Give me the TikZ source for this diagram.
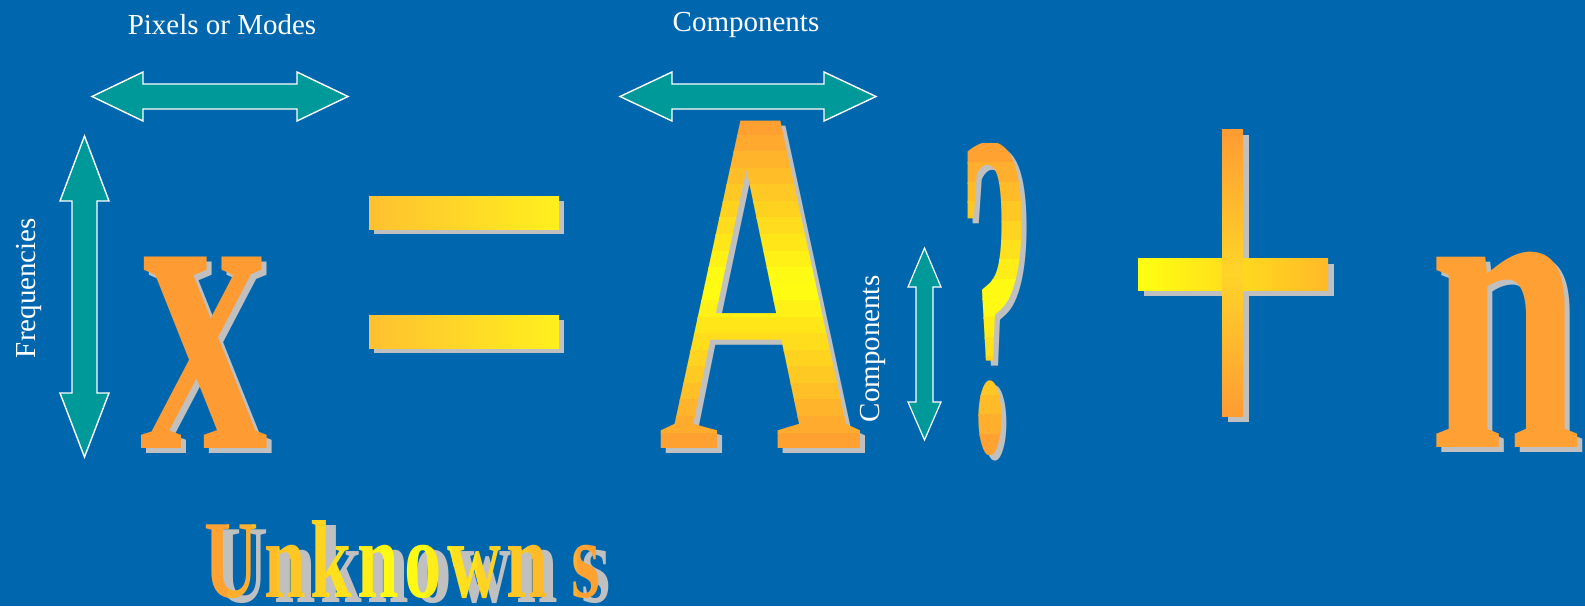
\documentclass[tikz,border=0pt]{standalone}
\usepackage{fontspec}
\setmainfont{Liberation Serif}
\usepackage{graphicx}
\definecolor{bg}{RGB}{0,102,174}
\definecolor{tealarrow}{RGB}{0,153,153}
\definecolor{orng}{RGB}{255,155,51}
\definecolor{orng2}{RGB}{255,160,52}
\definecolor{yel}{RGB}{255,255,17}
\definecolor{eqleft}{RGB}{255,192,48}
\definecolor{eqright}{RGB}{255,240,30}
\definecolor{plusmid}{RGB}{255,212,40}
\definecolor{shad}{RGB}{192,192,192}
\newcommand\glyphA{\resizebox{204pt}{327pt}{\bfseries A}}
\newcommand\glyphQ{\resizebox{71pt}{306pt}{\bfseries ?}}
\newcommand\glyphU{\resizebox{396pt}{77pt}{\bfseries\addfontfeature{LetterSpace=7}Unknown s}}
\newcommand\glyphX{\resizebox{128pt}{191pt}{\bfseries x}}
\newcommand\glyphN{\resizebox{152pt}{195pt}{\bfseries n}}
\tikzset{
  arrowshape/.style={fill=tealarrow,draw=white,line width=1.4pt,line join=miter},
  lbl/.style={text=white,font=\fontsize{29}{32}\selectfont,inner sep=0pt},
  shadowglyph/.style={text=shad,inner sep=0pt,outer sep=0pt},
  glyph/.style={inner sep=0pt,outer sep=0pt},
  barshadow/.style={fill=shad},
}
\begin{document}
\begin{tikzpicture}[x=1pt,y=-1pt]
\fill[bg] (0,0) rectangle (1585,606);
\useasboundingbox (0,0) rectangle (1585,606);

% labels
\node[lbl] (lpix) at (222,25) {Pixels or Modes};
\node[lbl] (lcomp) at (746,25) {Components};
\node[lbl,rotate=90] (lfreq) at (29,288) {Frequencies};
\node[lbl,rotate=90] (lcomp2) at (873,349) {Components};

% horizontal double arrows
\draw[arrowshape] (92,96.5) -- (143,72) -- (143,84) -- (297,84) -- (297,72) -- (348,96.5)
  -- (297,121) -- (297,109) -- (143,109) -- (143,121) -- cycle;
\draw[arrowshape] (620,96.5) -- (672,72) -- (672,84) -- (824,84) -- (824,72) -- (876,96.5)
  -- (824,121) -- (824,109) -- (672,109) -- (672,121) -- cycle;
% vertical double arrows
\draw[arrowshape] (84.5,136) -- (109,201) -- (97,201) -- (97,393) -- (109,393) -- (84.5,457)
  -- (60,393) -- (72,393) -- (72,201) -- (60,201) -- cycle;
\draw[arrowshape,line width=1.2pt] (924.5,248) -- (941,287) -- (933,287) -- (933,402) -- (941,402) -- (924.5,440)
  -- (908,402) -- (916,402) -- (916,287) -- (908,287) -- cycle;

% x
\node[shadowglyph] (xs) at (209,357.5) {\glyphX};
\node[glyph,text=orng] (xg) at (204,352.5) {\glyphX};

% =
\fill[barshadow] (374,201) rectangle (564,234);
\fill[barshadow] (374,320) rectangle (564,353);
\shade[left color=eqleft,right color=eqright] (369,196) rectangle (559,229);
\shade[left color=eqleft,right color=eqright] (369,315) rectangle (559,348);

% A (vertical gradient orange - yellow - orange)
\node[shadowglyph] (as) at (766,289.5) {\glyphA};
\foreach \i in {0,...,19}{
  \pgfmathsetmacro\ya{119+331*\i/20-0.4}
  \pgfmathsetmacro\yb{119+331*(\i+1)/20+0.4}
  \pgfmathtruncatemacro\pct{abs(2*(\i+0.5)/20-1)*100}
  \begin{scope}
    \clip (640,\ya) rectangle (880,\yb);
    \node[glyph,text=orng!\pct!yel] (ag\i) at (761,284.5) {\glyphA};
  \end{scope}
}

% ?
\node[shadowglyph] (qs) at (1000,304) {\glyphQ};
\foreach \i in {0,...,15}{
  \pgfmathsetmacro\ya{144+310*\i/16-0.4}
  \pgfmathsetmacro\yb{144+310*(\i+1)/16+0.4}
  \pgfmathtruncatemacro\pct{abs(2*(\i+0.5)/16-1)*100}
  \begin{scope}
    \clip (940,\ya) rectangle (1050,\yb);
    \node[glyph,text=orng!\pct!yel] (qg\i) at (995,299) {\glyphQ};
  \end{scope}
}

% +
\fill[barshadow] (1228,135) rectangle (1249,422);
\fill[barshadow] (1144,264) rectangle (1334,296);
\shade[left color=yel,right color=orng!70!yel] (1138,258) rectangle (1328,290);
\shade[top color=orng,bottom color=orng,middle color=plusmid] (1222,129) rectangle (1243,416);

% n
\node[shadowglyph] (ns) at (1511,354.5) {\glyphN};
\node[glyph,text=orng2] (ng) at (1506,349.5) {\glyphN};

% Unknown s (horizontal gradient)
\node[shadowglyph] (us) at (413,565) {\glyphU};
\foreach \i in {0,...,15}{
  \pgfmathsetmacro\xa{203+400*\i/16-0.4}
  \pgfmathsetmacro\xb{203+400*(\i+1)/16+0.4}
  \pgfmathtruncatemacro\pct{abs(2*(\i+0.5)/16-1)*100}
  \begin{scope}
    \clip (\xa,505) rectangle (\xb,606);
    \node[glyph,text=orng!\pct!yel] (ug\i) at (403,559.5) {\glyphU};
  \end{scope}
}
\end{tikzpicture}
\end{document}
